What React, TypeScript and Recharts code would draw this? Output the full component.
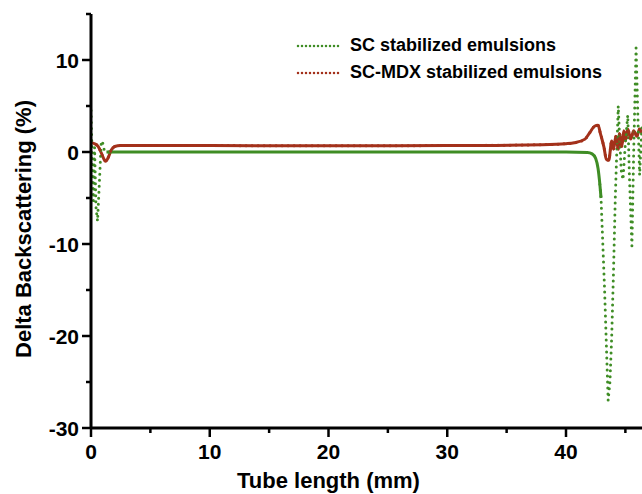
import React from 'react';
import { LineChart, Line, XAxis, YAxis, Legend } from 'recharts';

// SC stabilized emulsions (green)
const scLeftX = [0, 0.1, 0.2, 0.3, 0.42, 0.55, 0.7, 0.85, 0.95, 1.1, 1.3, 1.5];
const scLeftY = [4.5, -1, -5.3, 0.5, -6, -7.5, -3.5, 0.8, 1.2, 0.3, 0, 0];
const scFlatX = [1.3, 10, 20, 30, 40, 41.8, 42.2, 42.5, 42.7, 42.85, 42.95];
const scFlatY = [0, 0, 0, 0, 0, -0.05, -0.2, -0.7, -1.8, -3.5, -5];
const scRightX = [42.85, 42.95, 43.1, 43.25, 43.4, 43.55, 43.7, 43.85, 44.0, 44.15, 44.3, 44.4, 44.5, 44.65, 44.8, 45.0, 45.2, 45.35, 45.55, 45.7, 45.9, 46.05, 46.2, 46.4];
const scRightY = [-3.5, -5, -10, -15, -21, -27, -25, -20, -13, -5, 1, 5, 2, -2, -3, 1, 4, -3, -10.2, 0, 11.3, 4, -2.5, 3];

// SC-MDX stabilized emulsions (red)
const mdxX = [0, 0.3, 0.6, 0.9, 1.1, 1.25, 1.45, 1.7, 2.0, 2.5, 5, 10, 20, 30, 38, 40, 40.7, 41.6, 42.0, 42.4, 42.7, 42.9, 43.2, 43.4, 43.6, 43.85, 44.0, 44.2, 44.4, 44.5, 44.7, 44.87, 45.0, 45.2, 45.45, 45.7, 45.96, 46.2, 46.4];
const mdxY = [1.0, 0.9, 0.6, -0.2, -0.8, -1.0, -0.6, 0.2, 0.6, 0.7, 0.72, 0.7, 0.68, 0.7, 0.8, 0.9, 1.0, 1.4, 2.1, 2.8, 2.9, 2.0, 0.5, -0.8, -0.9, 1.2, 0.3, 1.7, 0.3, 2.0, 0.6, 2.3, 1.2, 2.5, 1.4, 2.3, 1.7, 2.5, 2.0];

const xTicks = [0, 5, 10, 15, 20, 25, 30, 35, 40, 45];
const yTicks = [-30, -25, -20, -15, -10, -5, 0, 5, 10, 15];

const GREEN = '#3f8d25';
const RED = '#a3311b';
const FONT = '"Liberation Sans", Arial, sans-serif';

const zip = (xs: number[], ys: number[]) => xs.map((x, i) => ({ x, y: ys[i] }));
const scLeft = zip(scLeftX, scLeftY);
const scFlat = zip(scFlatX, scFlatY);
const scRight = zip(scRightX, scRightY);
const mdx = zip(mdxX, mdxY);

const XTick = (props: any) => {
  const { x, y, payload } = props;
  const v = payload.value;
  const major = v % 10 === 0;
  return (
    <g>
      <line x1={x} x2={x} y1={y} y2={y + (major ? 9 : 5)} stroke="#000" strokeWidth={2.5} />
      {major && (
        <text x={x} y={y + 31} textAnchor="middle" fontSize={21} fontWeight="bold" fill="#000" fontFamily={FONT}>
          {v}
        </text>
      )}
    </g>
  );
};

const YTick = (props: any) => {
  const { x, y, payload } = props;
  const v = payload.value;
  const major = v % 10 === 0;
  return (
    <g>
      <line x1={x - (major ? 9 : 5)} x2={x} y1={y} y2={y} stroke="#000" strokeWidth={2.5} />
      {major && (
        <text x={x - 12} y={y + 7.5} textAnchor="end" fontSize={21} fontWeight="bold" fill="#000" fontFamily={FONT}>
          {v}
        </text>
      )}
    </g>
  );
};

const XTitle = (props: any) => {
  const { viewBox } = props;
  return (
    <text x={viewBox.x + viewBox.width / 2 - 38} y={viewBox.y + 60} textAnchor="middle" fontSize={22} fontWeight="bold" fill="#000" fontFamily={FONT}>
      Tube length (mm)
    </text>
  );
};

const YTitle = (props: any) => {
  const { viewBox } = props;
  const cx = 31;
  const cy = viewBox.y + viewBox.height / 2 + 8;
  return (
    <text x={cx} y={cy} transform={`rotate(-90, ${cx}, ${cy})`} textAnchor="middle" fontSize={22} fontWeight="bold" fill="#000" fontFamily={FONT}>
      Delta Backscattering (%)
    </text>
  );
};

const LegendContent = (props: any) => {
  const items = (props.payload || []).filter((p: any) => p.type !== 'none');
  return (
    <div style={{ fontFamily: FONT }}>
      {items.map((p: any) => (
        <div key={p.value} style={{ display: 'flex', alignItems: 'center', height: 27 }}>
          <svg width={50} height={6} style={{ marginRight: 4 }}>
            <line x1={2} x2={46} y1={3} y2={3} stroke={p.color} strokeWidth={2.5} strokeDasharray="0 4" strokeLinecap="round" />
          </svg>
          <span style={{ fontSize: 18, fontWeight: 'bold', color: '#000' }}>{p.value}</span>
        </div>
      ))}
    </div>
  );
};

export default function App() {
  return (
    <div style={{ position: 'absolute', left: 0, top: 0, width: 642, height: 494, background: '#fff' }}>
      <LineChart width={642} height={494} margin={{ top: 14, right: 0, bottom: 0, left: 0 }}>
        <XAxis
          dataKey="x"
          type="number"
          domain={[0, 46.4]}
          ticks={xTicks}
          interval={0}
          allowDataOverflow
          height={66}
          tickSize={0}
          tickMargin={0}
          tickLine={false}
          tick={<XTick />}
          axisLine={{ stroke: '#000', strokeWidth: 3 }}
          label={<XTitle />}
        />
        <YAxis
          type="number"
          domain={[-30, 15]}
          ticks={yTicks}
          interval={0}
          allowDataOverflow
          width={91}
          tickSize={0}
          tickMargin={0}
          tickLine={false}
          tick={<YTick />}
          axisLine={{ stroke: '#000', strokeWidth: 3 }}
          label={<YTitle />}
        />
        <Legend
          layout="horizontal"
          verticalAlign="middle"
          align="center"
          content={<LegendContent />}
          wrapperStyle={{ left: 296, top: 32, width: 340, height: 60 }}
        />
        <Line data={mdx} dataKey="y" name="SC-MDX stabilized emulsions" type="monotone" stroke={RED} strokeWidth={3} dot={false} activeDot={false} isAnimationActive={false} legendType="none" />
        <Line data={scFlat} dataKey="y" name="scflat" type="monotone" stroke={GREEN} strokeWidth={3} dot={false} activeDot={false} isAnimationActive={false} legendType="none" />
        <Line data={scLeft} dataKey="y" name="SC stabilized emulsions" type="linear" stroke={GREEN} strokeWidth={3} strokeDasharray="0 6" strokeLinecap="round" dot={false} activeDot={false} isAnimationActive={false} />
        <Line data={scRight} dataKey="y" name="scright" type="linear" stroke={GREEN} strokeWidth={3} strokeDasharray="0 6" strokeLinecap="round" dot={false} activeDot={false} isAnimationActive={false} legendType="none" />
        <Line data={mdx} dataKey="y" name="SC-MDX stabilized emulsions" type="monotone" stroke={RED} strokeWidth={3} strokeDasharray="0 6" strokeLinecap="round" dot={false} activeDot={false} isAnimationActive={false} />
      </LineChart>
    </div>
  );
}
